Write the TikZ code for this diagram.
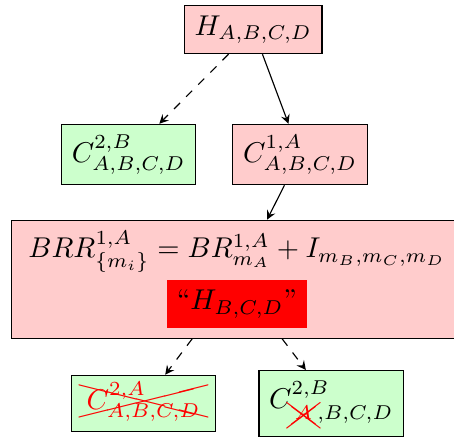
\documentclass[tikz,border=0pt]{standalone}
\usepackage{amsmath}
\usepackage{cancel}
\renewcommand{\CancelColor}{\color{red}}
\setlength{\fboxsep}{3.5pt}
\begin{document}
\begin{tikzpicture}[
    >=stealth,
    pinkbox/.style={draw, fill=red!20, inner sep=3.6pt},
    greenbox/.style={draw, fill=green!20, inner sep=3.6pt},
  ]
  \useasboundingbox (0,0) rectangle (5.575,-5.366);
  \clip (0,0) rectangle (5.575,-5.366);
  \node[pinkbox] (hall) at (3.109,-0.362) {$H_{A,B,C,D}$};
  \node[greenbox] (ctwob) at (1.580,-1.897) {$C^{2,B}_{A,B,C,D}$};
  \node[pinkbox] (conea) at (3.684,-1.897) {$C^{1,A}_{A,B,C,D}$};
  \node[pinkbox, align=center, minimum width=157.4pt, minimum height=40.2pt] (brr) at (2.910,-3.429)
    {$BRR^{1,A}_{\{m_i\}} = BR^{1,A}_{m_A} + I_{m_B,m_C,m_D}$\\[1.5pt]
     \colorbox{red}{\rule[-2.7pt]{0pt}{2.7pt}``$H_{B,C,D}$''}};
  \node[greenbox] (ctwoa) at (1.762,-4.955)
    {$\color{red}\xcancel{\,C^{2,A}_{A,B,C,D}\,}$};
  \node[greenbox] (ctwobx) at (4.068,-4.955)
    {$C^{2,B}_{\xcancel{\mkern4mu\rule[-2.4pt]{0pt}{7.4pt}\color{red}A\mkern4mu},B,C,D}$};
  \draw[->, dashed] (hall) -- (ctwob);
  \draw[->] (hall) -- (conea);
  \draw[->] (conea) -- (brr);
  \draw[->, dashed] (brr) -- (ctwoa);
  \draw[->, dashed] (brr) -- (ctwobx);
\end{tikzpicture}
\end{document}
